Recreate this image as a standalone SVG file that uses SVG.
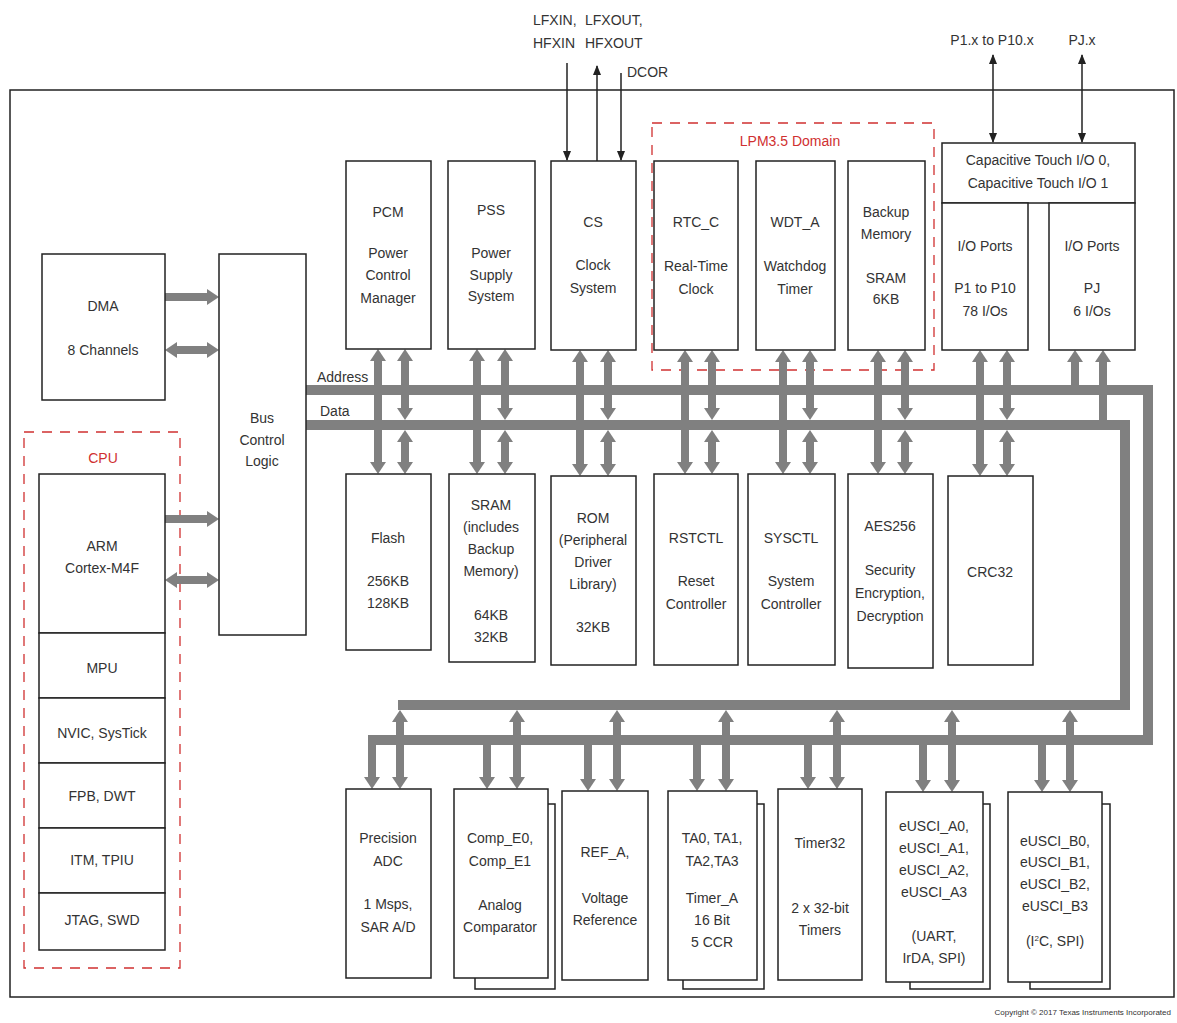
<svg xmlns="http://www.w3.org/2000/svg" width="1177" height="1023" viewBox="0 0 1177 1023">
<style>
.bx{fill:#fff;stroke:#222;stroke-width:1.5}
.sh{fill:none;stroke:#222;stroke-width:1.5}
.t{font-family:"Liberation Sans",Arial,sans-serif;font-size:14px;fill:#333;text-anchor:middle}
.lbl{font-family:"Liberation Sans",Arial,sans-serif;font-size:14px;fill:#333}
.red{font-family:"Liberation Sans",Arial,sans-serif;font-size:14px;fill:#d03030;text-anchor:middle}
.dash{fill:none;stroke:#d03030;stroke-width:1.3;stroke-dasharray:10 8}
.bus{fill:none;stroke:#808080;stroke-width:10;stroke-linejoin:miter}
.ga{stroke:#808080;stroke-width:8;fill:none}
.ka{stroke:#222;stroke-width:1.5;fill:none}
</style>
<defs>
<marker id="ah" viewBox="0 0 12 16" markerWidth="12" markerHeight="16" refX="1" refY="8" markerUnits="userSpaceOnUse" orient="auto-start-reverse"><path d="M0,0 L12,8 L0,16 z" fill="#808080"/></marker>
<marker id="ak" viewBox="0 0 10 10" markerWidth="10" markerHeight="10" refX="9" refY="5" markerUnits="userSpaceOnUse" orient="auto-start-reverse"><path d="M0,1 L10,5 L0,9 z" fill="#222"/></marker>
</defs>
<rect width="1177" height="1023" fill="#fff"/>
<rect id="chip" x="10" y="90" width="1164" height="907" fill="none" stroke="#222" stroke-width="1.5"/>

<!-- external labels -->
<text class="lbl" x="533" y="25">LFXIN,</text>
<text class="lbl" x="533" y="48">HFXIN</text>
<text class="lbl" x="585" y="25">LFXOUT,</text>
<text class="lbl" x="585" y="48">HFXOUT</text>
<text class="lbl" x="627" y="77">DCOR</text>
<text class="t" x="992" y="45">P1.x to P10.x</text>
<text class="t" x="1082" y="45">PJ.x</text>

<!-- domains -->
<g id="lpm35">
<rect class="dash" x="652" y="123" width="282" height="247"/>
<text class="red" x="790" y="146">LPM3.5 Domain</text>
</g>
<g id="cpu">
<rect class="dash" x="24" y="432" width="156" height="536"/>
<text class="red" x="103" y="463">CPU</text>
</g>

<!-- connectors -->
<g id="connectors">
<polyline class="bus" points="306,390 1148,390 1148,740 368,740"/>
<polyline class="bus" points="306,425 1125,425 1125,705 398,705"/>
<text class="lbl" x="317" y="382">Address</text>
<text class="lbl" x="320" y="416">Data</text>

<line class="ka" x1="567" y1="63" x2="567" y2="160" marker-end="url(#ak)"/>
<line class="ka" x1="597" y1="161" x2="597" y2="66" marker-end="url(#ak)"/>
<line class="ka" x1="621" y1="73" x2="621" y2="160" marker-end="url(#ak)"/>
<line class="ka" x1="993" y1="55" x2="993" y2="142" marker-start="url(#ak)" marker-end="url(#ak)"/>
<line class="ka" x1="1082" y1="55" x2="1082" y2="142" marker-start="url(#ak)" marker-end="url(#ak)"/>

<line class="ga" x1="165" y1="297" x2="208" y2="297" marker-end="url(#ah)"/>
<line class="ga" x1="176" y1="350" x2="208" y2="350" marker-start="url(#ah)" marker-end="url(#ah)"/>
<line class="ga" x1="165" y1="519" x2="208" y2="519" marker-end="url(#ah)"/>
<line class="ga" x1="176" y1="580" x2="208" y2="580" marker-start="url(#ah)" marker-end="url(#ah)"/>

<g marker-start="url(#ah)" marker-end="url(#ah)">
<line class="ga" x1="378" y1="360" x2="378" y2="463"/>
<line class="ga" x1="477" y1="360" x2="477" y2="463"/>
<line class="ga" x1="580" y1="361" x2="580" y2="465"/>
<line class="ga" x1="685" y1="361" x2="685" y2="463"/>
<line class="ga" x1="783" y1="361" x2="783" y2="463"/>
<line class="ga" x1="878" y1="361" x2="878" y2="463"/>
<line class="ga" x1="980" y1="361" x2="980" y2="465"/>
<line class="ga" x1="405" y1="360" x2="405" y2="409"/>
<line class="ga" x1="405" y1="441" x2="405" y2="463"/>
<line class="ga" x1="505" y1="360" x2="505" y2="409"/>
<line class="ga" x1="505" y1="441" x2="505" y2="463"/>
<line class="ga" x1="608" y1="361" x2="608" y2="409"/>
<line class="ga" x1="608" y1="441" x2="608" y2="465"/>
<line class="ga" x1="712" y1="361" x2="712" y2="409"/>
<line class="ga" x1="712" y1="441" x2="712" y2="463"/>
<line class="ga" x1="810" y1="361" x2="810" y2="409"/>
<line class="ga" x1="810" y1="441" x2="810" y2="463"/>
<line class="ga" x1="905" y1="361" x2="905" y2="409"/>
<line class="ga" x1="905" y1="441" x2="905" y2="463"/>
<line class="ga" x1="1007" y1="361" x2="1007" y2="409"/>
<line class="ga" x1="1007" y1="441" x2="1007" y2="465"/>
</g>
<line class="ga" x1="1075" y1="386" x2="1075" y2="361" marker-end="url(#ah)"/>
<line class="ga" x1="1103" y1="421" x2="1103" y2="361" marker-end="url(#ah)"/>

<g marker-end="url(#ah)">
<line class="ga" x1="372" y1="736" x2="372" y2="778"/>
<line class="ga" x1="487" y1="736" x2="487" y2="778"/>
<line class="ga" x1="588" y1="736" x2="588" y2="780"/>
<line class="ga" x1="697" y1="736" x2="697" y2="780"/>
<line class="ga" x1="808" y1="736" x2="808" y2="778"/>
<line class="ga" x1="923" y1="736" x2="923" y2="781"/>
<line class="ga" x1="1042" y1="736" x2="1042" y2="781"/>
</g>
<g marker-start="url(#ah)" marker-end="url(#ah)">
<line class="ga" x1="400" y1="721" x2="400" y2="778"/>
<line class="ga" x1="517" y1="721" x2="517" y2="778"/>
<line class="ga" x1="617" y1="721" x2="617" y2="780"/>
<line class="ga" x1="726" y1="721" x2="726" y2="780"/>
<line class="ga" x1="837" y1="721" x2="837" y2="778"/>
<line class="ga" x1="952" y1="721" x2="952" y2="781"/>
<line class="ga" x1="1070" y1="721" x2="1070" y2="781"/>
</g>
</g>

<g id="dma"><rect class="bx" x="42" y="254" width="123" height="146"/>
<text class="t" x="103" y="311">DMA</text><text class="t" x="103" y="355">8 Channels</text></g>
<g id="buscontrol"><rect class="bx" x="219" y="254" width="87" height="381"/>
<text class="t" x="262" y="423">Bus</text><text class="t" x="262" y="445">Control</text><text class="t" x="262" y="466">Logic</text></g>
<g id="arm"><rect class="bx" x="39" y="474" width="126" height="159"/>
<text class="t" x="102" y="551">ARM</text><text class="t" x="102" y="573">Cortex-M4F</text></g>
<g id="mpu"><rect class="bx" x="39" y="633" width="126" height="65"/><text class="t" x="102" y="673">MPU</text></g>
<g id="nvic"><rect class="bx" x="39" y="698" width="126" height="65"/><text class="t" x="102" y="738">NVIC, SysTick</text></g>
<g id="fpb"><rect class="bx" x="39" y="763" width="126" height="65"/><text class="t" x="102" y="801">FPB, DWT</text></g>
<g id="itm"><rect class="bx" x="39" y="828" width="126" height="65"/><text class="t" x="102" y="865">ITM, TPIU</text></g>
<g id="jtag"><rect class="bx" x="39" y="893" width="126" height="57"/><text class="t" x="102" y="925">JTAG, SWD</text></g>

<g id="pcm"><rect class="bx" x="346" y="161" width="85" height="188"/>
<text class="t" x="388" y="217">PCM</text><text class="t" x="388" y="258">Power</text><text class="t" x="388" y="280">Control</text><text class="t" x="388" y="303">Manager</text></g>
<g id="pss"><rect class="bx" x="448" y="161" width="87" height="188"/>
<text class="t" x="491" y="215">PSS</text><text class="t" x="491" y="258">Power</text><text class="t" x="491" y="280">Supply</text><text class="t" x="491" y="301">System</text></g>
<g id="cs"><rect class="bx" x="551" y="161" width="85" height="189"/>
<text class="t" x="593" y="227">CS</text><text class="t" x="593" y="270">Clock</text><text class="t" x="593" y="293">System</text></g>
<g id="rtc"><rect class="bx" x="654" y="161" width="84" height="189"/>
<text class="t" x="696" y="227">RTC_C</text><text class="t" x="696" y="271">Real-Time</text><text class="t" x="696" y="294">Clock</text></g>
<g id="wdt"><rect class="bx" x="756" y="161" width="79" height="189"/>
<text class="t" x="795" y="227">WDT_A</text><text class="t" x="795" y="271">Watchdog</text><text class="t" x="795" y="294">Timer</text></g>
<g id="backup"><rect class="bx" x="848" y="161" width="77" height="189"/>
<text class="t" x="886" y="217">Backup</text><text class="t" x="886" y="239">Memory</text><text class="t" x="886" y="283">SRAM</text><text class="t" x="886" y="304">6KB</text></g>
<g id="captouch"><rect class="bx" x="942" y="143" width="193" height="60"/>
<text class="t" x="1038" y="165">Capacitive Touch I/O 0,</text><text class="t" x="1038" y="188">Capacitive Touch I/O 1</text></g>
<g id="iop"><rect class="bx" x="942" y="203" width="86" height="147"/>
<text class="t" x="985" y="251">I/O Ports</text><text class="t" x="985" y="293">P1 to P10</text><text class="t" x="985" y="316">78 I/Os</text></g>
<g id="iopj"><rect class="bx" x="1049" y="203" width="86" height="147"/>
<text class="t" x="1092" y="251">I/O Ports</text><text class="t" x="1092" y="293">PJ</text><text class="t" x="1092" y="316">6 I/Os</text></g>

<g id="flash"><rect class="bx" x="346" y="474" width="85" height="176"/>
<text class="t" x="388" y="543">Flash</text><text class="t" x="388" y="586">256KB</text><text class="t" x="388" y="608">128KB</text></g>
<g id="sram"><rect class="bx" x="449" y="474" width="86" height="188"/>
<text class="t" x="491" y="510">SRAM</text><text class="t" x="491" y="532">(includes</text><text class="t" x="491" y="554">Backup</text><text class="t" x="491" y="576">Memory)</text><text class="t" x="491" y="620">64KB</text><text class="t" x="491" y="642">32KB</text></g>
<g id="rom"><rect class="bx" x="551" y="476" width="85" height="189"/>
<text class="t" x="593" y="523">ROM</text><text class="t" x="593" y="545">(Peripheral</text><text class="t" x="593" y="567">Driver</text><text class="t" x="593" y="589">Library)</text><text class="t" x="593" y="632">32KB</text></g>
<g id="rstctl"><rect class="bx" x="654" y="474" width="84" height="191"/>
<text class="t" x="696" y="543">RSTCTL</text><text class="t" x="696" y="586">Reset</text><text class="t" x="696" y="609">Controller</text></g>
<g id="sysctl"><rect class="bx" x="748" y="474" width="87" height="191"/>
<text class="t" x="791" y="543">SYSCTL</text><text class="t" x="791" y="586">System</text><text class="t" x="791" y="609">Controller</text></g>
<g id="aes"><rect class="bx" x="848" y="474" width="85" height="194"/>
<text class="t" x="890" y="531">AES256</text><text class="t" x="890" y="575">Security</text><text class="t" x="890" y="598">Encryption,</text><text class="t" x="890" y="621">Decryption</text></g>
<g id="crc"><rect class="bx" x="948" y="476" width="85" height="189"/>
<text class="t" x="990" y="577">CRC32</text></g>

<g id="adc"><rect class="bx" x="346" y="789" width="85" height="189"/>
<text class="t" x="388" y="843">Precision</text><text class="t" x="388" y="866">ADC</text><text class="t" x="388" y="909">1 Msps,</text><text class="t" x="388" y="932">SAR A/D</text></g>
<g id="comp"><path class="sh" d="M548,804 H555 V989 H475 V978"/><rect class="bx" x="454" y="789" width="94" height="189"/>
<text class="t" x="500" y="843">Comp_E0,</text><text class="t" x="500" y="866">Comp_E1</text><text class="t" x="500" y="910">Analog</text><text class="t" x="500" y="932">Comparator</text></g>
<g id="ref"><rect class="bx" x="562" y="791" width="86" height="189"/>
<text class="t" x="605" y="857">REF_A,</text><text class="t" x="605" y="903">Voltage</text><text class="t" x="605" y="925">Reference</text></g>
<g id="ta"><path class="sh" d="M757,804 H764 V989 H683 V980"/><rect class="bx" x="668" y="791" width="89" height="189"/>
<text class="t" x="712" y="843">TA0, TA1,</text><text class="t" x="712" y="866">TA2,TA3</text><text class="t" x="712" y="903">Timer_A</text><text class="t" x="712" y="925">16 Bit</text><text class="t" x="712" y="947">5 CCR</text></g>
<g id="timer32"><rect class="bx" x="778" y="789" width="84" height="191"/>
<text class="t" x="820" y="848">Timer32</text><text class="t" x="820" y="913">2 x 32-bit</text><text class="t" x="820" y="935">Timers</text></g>
<g id="euscia"><path class="sh" d="M983,804 H990 V989 H910 V982"/><rect class="bx" x="886" y="792" width="97" height="190"/>
<text class="t" x="934" y="831">eUSCI_A0,</text><text class="t" x="934" y="853">eUSCI_A1,</text><text class="t" x="934" y="875">eUSCI_A2,</text><text class="t" x="934" y="897">eUSCI_A3</text><text class="t" x="934" y="941">(UART,</text><text class="t" x="934" y="963">IrDA, SPI)</text></g>
<g id="euscib"><path class="sh" d="M1102,804 H1110 V989 H1030 V982"/><rect class="bx" x="1008" y="792" width="94" height="190"/>
<text class="t" x="1055" y="846">eUSCI_B0,</text><text class="t" x="1055" y="867">eUSCI_B1,</text><text class="t" x="1055" y="889">eUSCI_B2,</text><text class="t" x="1055" y="911">eUSCI_B3</text><text class="t" x="1055" y="946">(I<tspan font-size="8" dy="-5">2</tspan><tspan dy="5">C, SPI)</tspan></text></g>

<text x="1171" y="1015" font-family="'Liberation Sans',Arial,sans-serif" font-size="8" fill="#333" text-anchor="end">Copyright © 2017 Texas Instruments Incorporated</text>
</svg>
